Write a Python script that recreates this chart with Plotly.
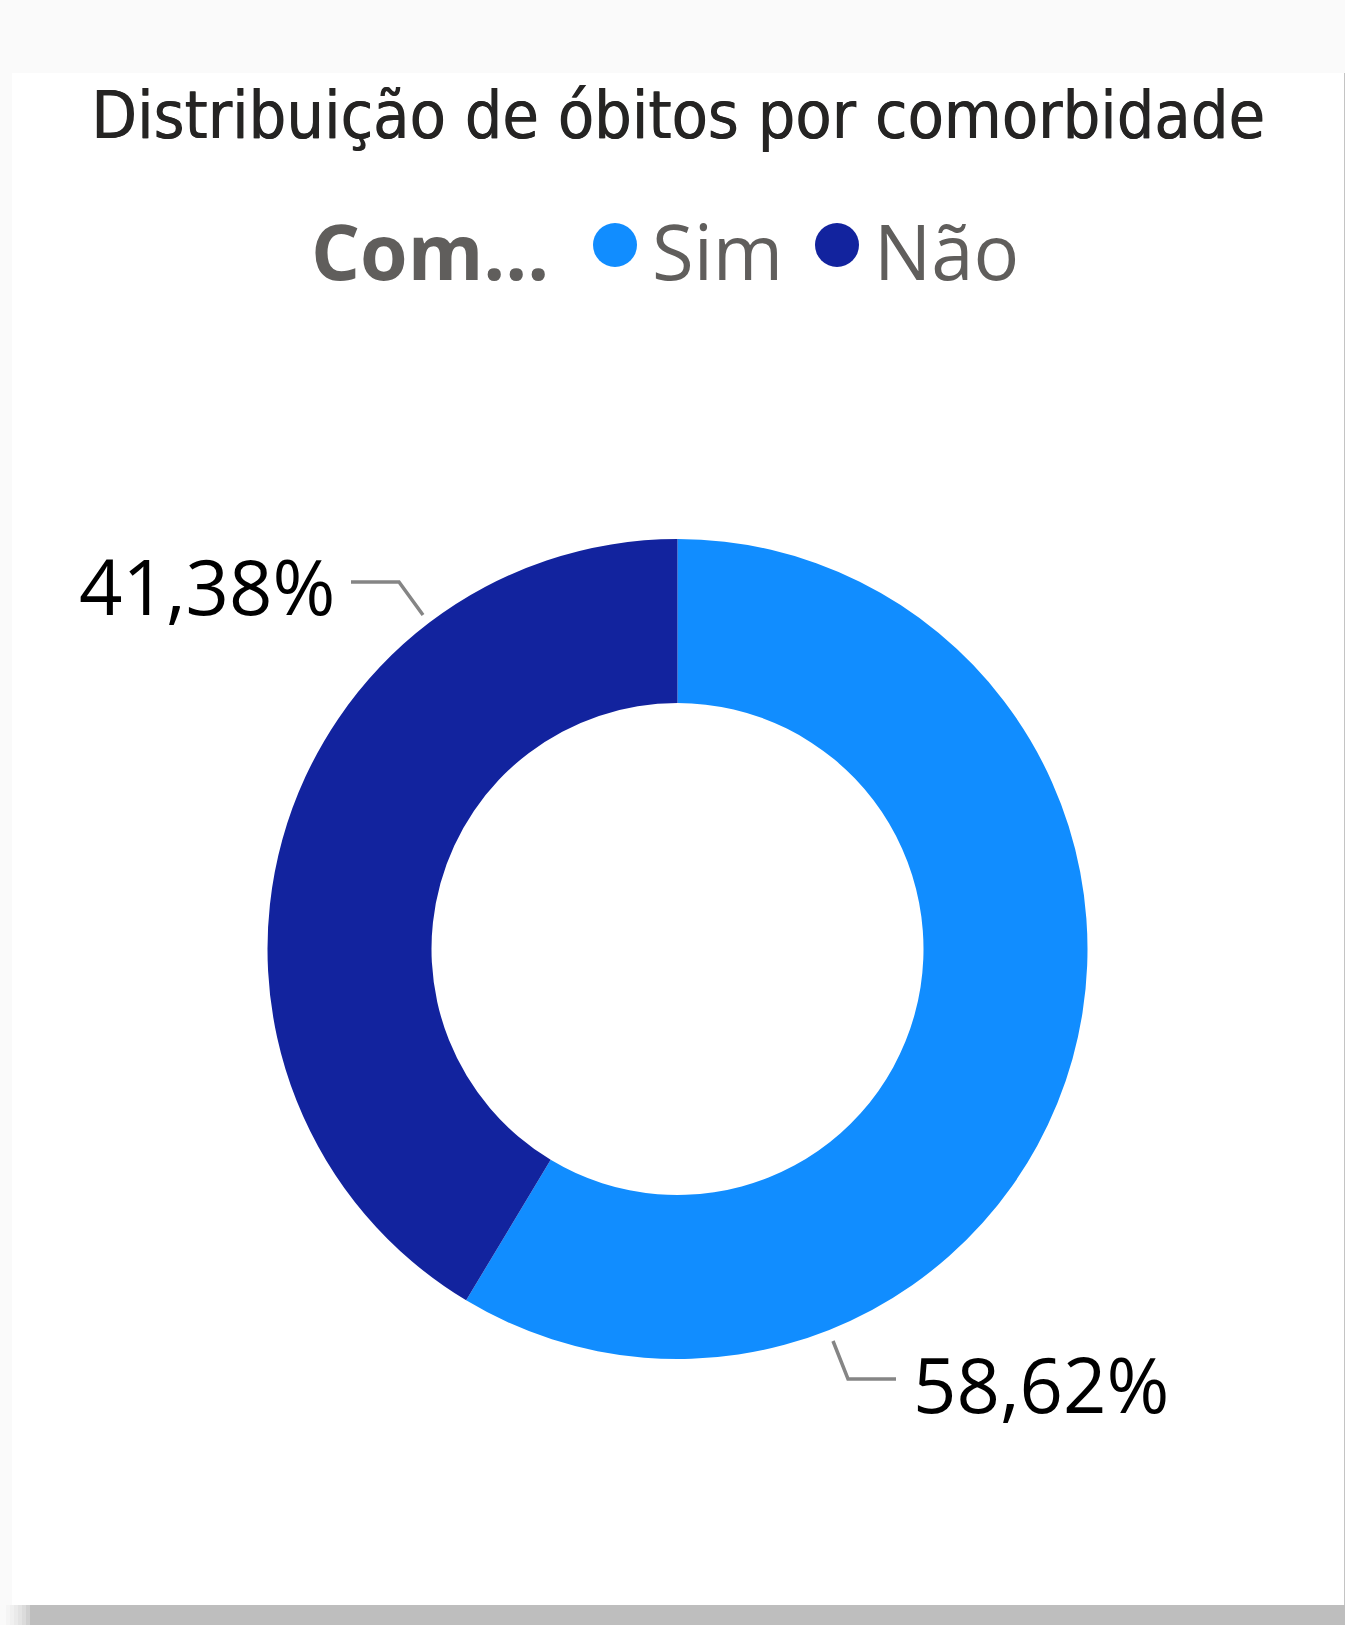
import plotly.graph_objects as go

# ---------------- data ----------------
categories = ["Sim", "Não"]
values = [58.62, 41.38]
legend_title = "Com..."
chart_title = "Distribuição de óbitos por comorbidade"

# ---------------- style ----------------
W, H = 1345, 1625
slice_colors = ["#118DFF", "#12239E"]
title_color = "#252423"
legend_color = "#605E5C"
label_color = "#000000"
leader_color = "#858585"


def fx(p):
    return p / W


def fy(p):
    return 1 - p / H


def fmt(v):
    return f"{v:.2f}".replace(".", ",") + "%"


cx, cy, r = 677.5, 949, 410

fig = go.Figure()
fig.add_trace(go.Pie(
    labels=categories,
    values=values,
    hole=0.6,
    sort=False,
    direction="clockwise",
    rotation=0,
    marker=dict(colors=slice_colors, line=dict(width=0)),
    textinfo="none",
    hoverinfo="label+percent",
    showlegend=False,
    domain=dict(x=[fx(cx - r), fx(cx + r)], y=[fy(cy + r), fy(cy - r)]),
))

shapes = []
# page shadow / card
shapes.append(dict(type="rect", xref="paper", yref="paper",
                   x0=fx(30), x1=fx(1345), y0=fy(1625), y1=fy(1605),
                   fillcolor="#BEBEBE", line=dict(width=0), layer="below"))
for i, a in enumerate([0.08, 0.16, 0.26, 0.38, 0.52, 0.7]):
    shapes.append(dict(type="rect", xref="paper", yref="paper",
                       x0=fx(6 + i * 4), x1=fx(10 + i * 4), y0=fy(1625), y1=fy(1605),
                       fillcolor=f"rgba(190,190,190,{a})", line=dict(width=0), layer="below"))
shapes.append(dict(type="rect", xref="paper", yref="paper",
                   x0=fx(12), x1=fx(1344), y0=fy(1605), y1=fy(73),
                   fillcolor="#FFFFFF", line=dict(width=0), layer="below"))
shapes.append(dict(type="line", xref="paper", yref="paper",
                   x0=fx(1344.5), x1=fx(1344.5), y0=fy(1605), y1=fy(73),
                   line=dict(color="#C4C4C4", width=1), layer="below"))

# legend circles
for xc, col in zip([615, 837], slice_colors):
    shapes.append(dict(type="circle", xref="paper", yref="paper",
                       x0=fx(xc - 22), x1=fx(xc + 22), y0=fy(245 + 22), y1=fy(245 - 22),
                       fillcolor=col, line=dict(width=0)))

# leader lines
shapes.append(dict(type="path", xref="paper", yref="paper",
                   path=f"M {fx(351)} {fy(582)} L {fx(399)} {fy(582)} L {fx(423)} {fy(615)}",
                   line=dict(color=leader_color, width=3.5)))
shapes.append(dict(type="path", xref="paper", yref="paper",
                   path=f"M {fx(833)} {fy(1341)} L {fx(848)} {fy(1379)} L {fx(896)} {fy(1379)}",
                   line=dict(color=leader_color, width=3.5)))

annotations = [
    dict(text=chart_title, x=fx(677.5), y=fy(115), xref="paper", yref="paper",
         xanchor="center", yanchor="middle", showarrow=False,
         font=dict(family="DejaVu Sans Condensed", size=66, color=title_color,
                   shadow="0.7px 0 0 #252423")),
    dict(text=f"<b>{legend_title}</b>", x=fx(309), y=fy(250), xref="paper", yref="paper",
         xanchor="left", yanchor="middle", showarrow=False,
         font=dict(family="Open Sans", size=77, color=legend_color)),
    dict(text=categories[0], x=fx(650), y=fy(250), xref="paper", yref="paper",
         xanchor="left", yanchor="middle", showarrow=False,
         font=dict(family="Open Sans", size=76, color=legend_color)),
    dict(text=categories[1], x=fx(872), y=fy(250), xref="paper", yref="paper",
         xanchor="left", yanchor="middle", showarrow=False,
         font=dict(family="Open Sans", size=76, color=legend_color)),
    dict(text=fmt(values[1]), x=fx(337), y=fy(586), xref="paper", yref="paper",
         xanchor="right", yanchor="middle", showarrow=False,
         font=dict(family="Open Sans", size=76, color=label_color)),
    dict(text=fmt(values[0]), x=fx(911), y=fy(1383), xref="paper", yref="paper",
         xanchor="left", yanchor="middle", showarrow=False,
         font=dict(family="Open Sans", size=76, color=label_color)),
]

fig.update_layout(
    width=W, height=H,
    margin=dict(l=0, r=0, t=0, b=0),
    paper_bgcolor="#FAFAFA",
    plot_bgcolor="#FAFAFA",
    shapes=shapes,
    annotations=annotations,
    showlegend=False,
)

fig.write_html("out.html", config={"displayModeBar": False},
               post_script="document.body.style.margin='0';document.body.style.overflow='hidden';")
